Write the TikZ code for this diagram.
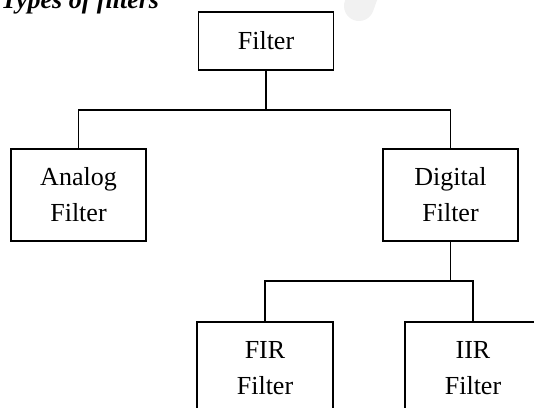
\documentclass[tikz,border=0pt]{standalone}
\usepackage{fontspec}
\setmainfont{Liberation Serif}
\begin{document}
\begin{tikzpicture}[x=1pt,y=-1pt,
  box/.style={draw=black, line width=1.8pt, minimum width=135pt, inner sep=0pt,
    align=center, font=\fontsize{26}{36}\selectfont},
  conn/.style={draw=black, line width=1.8pt}]
\useasboundingbox (0,0) rectangle (534,407);
% faint watermark stroke
\draw[line width=30pt, line cap=round, color=gray!11] (372,-30) -- (359,6);
% title (cut off at top)
\node[anchor=base west, inner sep=0pt, font=\fontsize{26}{30}\selectfont\bfseries\itshape] (title) at (1,8) {Types of filters};
% nodes
\node[box, minimum height=58pt] (filter) at (266,41) {Filter};
\node[box, minimum height=92pt] (analog) at (78.5,195) {Analog\\Filter};
\node[box, minimum height=92pt] (digital) at (450.5,195) {Digital\\Filter};
\node[box, minimum height=92pt, minimum width=136pt] (fir) at (265,368) {FIR\\Filter};
\node[box, minimum height=92pt, minimum width=136pt] (iir) at (473,368) {IIR\\Filter};
% junctions
\coordinate (j1) at (266,110);
\coordinate (j2) at (450.5,281);
% connectors
\draw[conn] (filter.south) -- (j1);
\draw[conn] (analog.north) |- (j1) -| (digital.north);
\draw[conn] (digital.south) -- (j2);
\draw[conn] (fir.north) |- (j2) -| (iir.north);
\end{tikzpicture}
\end{document}
